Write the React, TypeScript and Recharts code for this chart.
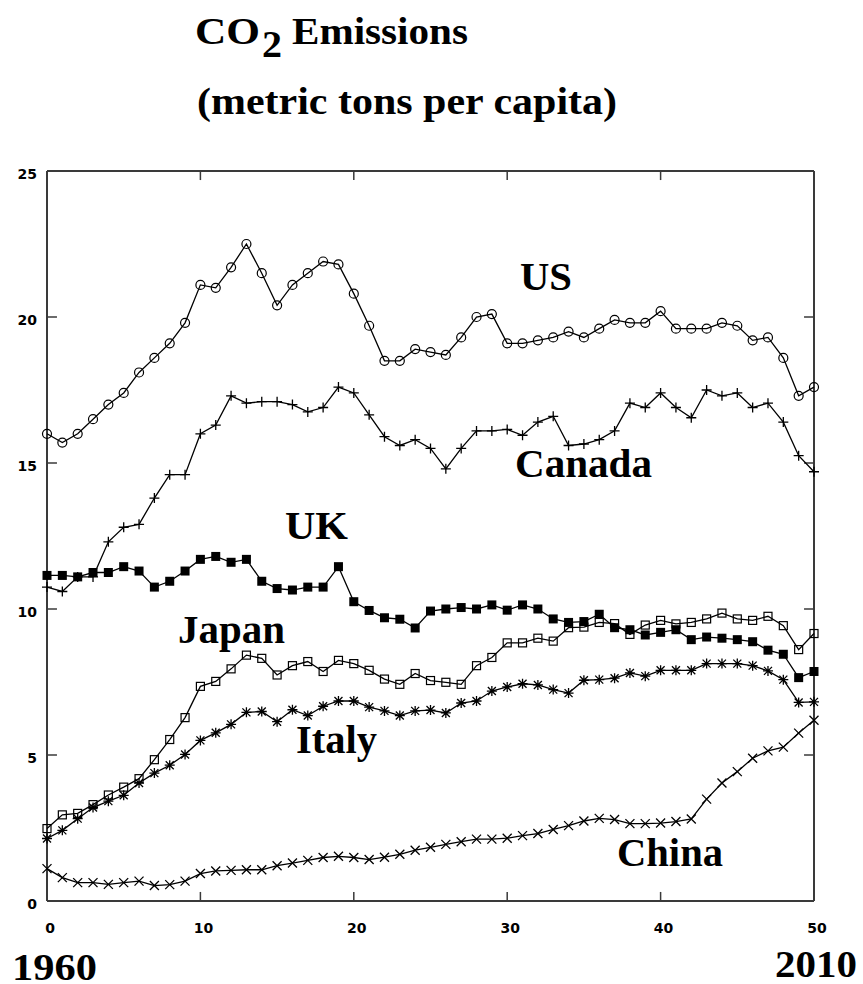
import React from "react";
import { LineChart, Line, XAxis, YAxis, ReferenceLine } from "recharts";

// years since 1960
const YEARS = Array.from({ length: 51 }, (_, i) => i);
const X_TICKS = [0, 10, 20, 30, 40, 50];
const Y_TICKS = [0, 5, 10, 15, 20, 25];

const US = [
  16.0, 15.7, 16.0, 16.5, 17.0, 17.4, 18.1, 18.6, 19.1, 19.8,
  21.1, 21.0, 21.7, 22.5, 21.5, 20.4, 21.1, 21.5, 21.9, 21.8,
  20.8, 19.7, 18.5, 18.5, 18.9, 18.8, 18.7, 19.3, 20.0, 20.1,
  19.1, 19.1, 19.2, 19.3, 19.5, 19.3, 19.6, 19.9, 19.8, 19.8,
  20.2, 19.6, 19.6, 19.6, 19.8, 19.7, 19.2, 19.3, 18.6, 17.3,
  17.6,
];
const CANADA = [
  10.75, 10.6, 11.1, 11.1, 12.3, 12.8, 12.9, 13.8, 14.6, 14.6,
  16.0, 16.3, 17.3, 17.05, 17.1, 17.1, 17.0, 16.75, 16.9, 17.6,
  17.4, 16.65, 15.9, 15.6, 15.8, 15.5, 14.8, 15.5, 16.1, 16.1,
  16.15, 15.95, 16.4, 16.6, 15.6, 15.65, 15.8, 16.1, 17.05, 16.9,
  17.4, 16.9, 16.55, 17.5, 17.3, 17.4, 16.9, 17.05, 16.4, 15.25,
  14.7,
];
const UK = [
  11.15, 11.15, 11.1, 11.25, 11.25, 11.45, 11.3, 10.75, 10.95, 11.3,
  11.7, 11.8, 11.6, 11.7, 10.95, 10.7, 10.65, 10.75, 10.75, 11.45,
  10.25, 9.95, 9.7, 9.65, 9.35, 9.93, 10.0, 10.05, 10.0, 10.14,
  9.96, 10.14, 10.0, 9.66, 9.54, 9.57, 9.82, 9.36, 9.29, 9.11,
  9.2, 9.29, 8.95, 9.04, 9.0, 8.95, 8.88, 8.59, 8.45, 7.65,
  7.86,
];
const JAPAN = [
  2.48, 2.95, 3.0, 3.3, 3.63, 3.9, 4.19, 4.84, 5.53, 6.28,
  7.35, 7.52, 7.95, 8.42, 8.31, 7.74, 8.06, 8.2, 7.86, 8.24,
  8.13, 7.9, 7.6, 7.42, 7.79, 7.55, 7.49, 7.42, 8.06, 8.34,
  8.84, 8.84, 9.0, 8.9, 9.36, 9.38, 9.54, 9.5, 9.13, 9.45,
  9.61, 9.49, 9.54, 9.66, 9.86, 9.66, 9.61, 9.75, 9.43, 8.61,
  9.16,
];
const ITALY = [
  2.14, 2.42, 2.82, 3.2, 3.42, 3.62, 4.04, 4.38, 4.65, 5.02,
  5.5, 5.76, 6.05, 6.46, 6.49, 6.14, 6.55, 6.35, 6.67, 6.85,
  6.85, 6.64, 6.51, 6.35, 6.51, 6.54, 6.44, 6.78, 6.85, 7.19,
  7.33, 7.44, 7.4, 7.24, 7.12, 7.56, 7.58, 7.63, 7.81, 7.7,
  7.9, 7.9, 7.9, 8.13, 8.13, 8.13, 8.06, 7.88, 7.58, 6.8,
  6.82,
];
const CHINA = [
  1.11, 0.8, 0.63, 0.63, 0.57, 0.63, 0.68, 0.53, 0.56, 0.68,
  0.94, 1.03, 1.05, 1.07, 1.07, 1.21, 1.3, 1.39, 1.49, 1.53,
  1.49, 1.42, 1.5, 1.6, 1.74, 1.84, 1.94, 2.03, 2.12, 2.12,
  2.15, 2.24, 2.31, 2.45, 2.58, 2.74, 2.83, 2.79, 2.65, 2.65,
  2.67, 2.72, 2.81, 3.49, 4.04, 4.43, 4.89, 5.14, 5.27, 5.75,
  6.19,
];

const data = YEARS.map((year, i) => ({
  year,
  us: US[i],
  canada: CANADA[i],
  uk: UK[i],
  japan: JAPAN[i],
  italy: ITALY[i],
  china: CHINA[i],
}));

const INK = "#000";
const FRAME = "#3a3a3a";
const TICK_FONT = "'DejaVu Sans', sans-serif";
const SERIF = "'Liberation Serif', 'Times New Roman', serif";

// tick mark lengths in data units (about 9-10 px)
const X_TICK_LEN = 0.31;
const Y_TICK_LEN = 0.65;

// marker shapes
const CircleDot = ({ cx, cy }: any) => (
  <circle cx={cx} cy={cy} r={4.5} fill="none" stroke={INK} strokeWidth={1.2} />
);
const PlusDot = ({ cx, cy }: any) => (
  <path d={`M${cx - 5},${cy}H${cx + 5}M${cx},${cy - 5}V${cy + 5}`} stroke={INK} strokeWidth={1.3} />
);
const FilledSquare = ({ cx, cy }: any) => (
  <rect x={cx - 4.5} y={cy - 4.5} width={9} height={9} fill={INK} />
);
const OpenSquare = ({ cx, cy }: any) => (
  <rect x={cx - 4} y={cy - 4} width={8} height={8} fill="none" stroke={INK} strokeWidth={1.2} />
);
const StarDot = ({ cx, cy }: any) => (
  <path
    d={`M${cx - 5},${cy}H${cx + 5}M${cx},${cy - 5}V${cy + 5}M${cx - 4},${cy - 4}L${cx + 4},${cy + 4}M${cx - 4},${cy + 4}L${cx + 4},${cy - 4}`}
    stroke={INK}
    strokeWidth={1.3}
  />
);
const CrossDot = ({ cx, cy }: any) => (
  <path
    d={`M${cx - 4.5},${cy - 4.5}L${cx + 4.5},${cy + 4.5}M${cx - 4.5},${cy + 4.5}L${cx + 4.5},${cy - 4.5}`}
    stroke={INK}
    strokeWidth={1.3}
  />
);

const SERIES = [
  { key: "us", Dot: CircleDot },
  { key: "canada", Dot: PlusDot },
  { key: "uk", Dot: FilledSquare },
  { key: "japan", Dot: OpenSquare },
  { key: "italy", Dot: StarDot },
  { key: "china", Dot: CrossDot },
];

const BottomLabel = ({ x, y, payload }: any) => (
  <text x={x + 3} y={y + 32} textAnchor="middle" fontFamily={TICK_FONT} fontWeight="bold" fontSize={14} fill={INK}>
    {payload.value}
  </text>
);
const LeftLabel = ({ x, y, payload }: any) => (
  <text x={x - 10} y={y + 8} textAnchor="end" fontFamily={TICK_FONT} fontWeight="bold" fontSize={14} fill={INK}>
    {payload.value}
  </text>
);

const LABELS = [
  { text: "US", x: 520, y: 290, len: 52 },
  { text: "Canada", x: 515, y: 477, len: 137 },
  { text: "UK", x: 285, y: 539, len: 63 },
  { text: "Japan", x: 178, y: 643, len: 107 },
  { text: "Italy", x: 296, y: 753, len: 81 },
  { text: "China", x: 617, y: 866, len: 106 },
];

export default function App() {
  return (
    <div style={{ position: "absolute", left: 0, top: 0, width: 863, height: 984, background: "#fff" }}>
      <LineChart
        width={863}
        height={984}
        data={data}
        margin={{ top: 171, right: 49, bottom: 53, left: 7 }}
      >
        <XAxis
          dataKey="year"
          type="number"
          domain={[0, 50]}
          ticks={X_TICKS}
          height={30}
          tickSize={0}
          tickMargin={0}
          tickLine={false}
          axisLine={false}
          tick={<BottomLabel />}
        />
        <YAxis
          type="number"
          domain={[0, 25]}
          ticks={Y_TICKS}
          width={40}
          tickSize={0}
          tickMargin={0}
          tickLine={false}
          axisLine={false}
          tick={<LeftLabel />}
        />
        {/* plot frame */}
        <ReferenceLine x={0} stroke={FRAME} strokeWidth={2} />
        <ReferenceLine x={50} stroke={FRAME} strokeWidth={2} />
        <ReferenceLine y={0} stroke={FRAME} strokeWidth={2} />
        <ReferenceLine y={25} stroke={FRAME} strokeWidth={2} />
        {/* inward ticks on all four sides */}
        {X_TICKS.slice(1, -1).map((t) => (
          <ReferenceLine key={`xb${t}`} segment={[{ x: t, y: 0 }, { x: t, y: X_TICK_LEN }]} stroke={FRAME} strokeWidth={1.5} />
        ))}
        {X_TICKS.slice(1, -1).map((t) => (
          <ReferenceLine key={`xt${t}`} segment={[{ x: t, y: 25 }, { x: t, y: 25 - X_TICK_LEN }]} stroke={FRAME} strokeWidth={1.5} />
        ))}
        {Y_TICKS.slice(1, -1).map((t) => (
          <ReferenceLine key={`yl${t}`} segment={[{ x: 0, y: t }, { x: Y_TICK_LEN, y: t }]} stroke={FRAME} strokeWidth={1.5} />
        ))}
        {Y_TICKS.slice(1, -1).map((t) => (
          <ReferenceLine key={`yr${t}`} segment={[{ x: 50, y: t }, { x: 50 - Y_TICK_LEN, y: t }]} stroke={FRAME} strokeWidth={1.5} />
        ))}
        {SERIES.map(({ key, Dot }) => (
          <Line
            key={key}
            dataKey={key}
            type="linear"
            stroke={INK}
            strokeWidth={1.3}
            isAnimationActive={false}
            dot={(p: any) => <Dot key={`${key}-${p.index}`} cx={p.cx} cy={p.cy} />}
            activeDot={false}
          />
        ))}
      </LineChart>
      <svg
        width={863}
        height={984}
        style={{ position: "absolute", left: 0, top: 0, pointerEvents: "none" }}
      >
        <g fontFamily={SERIF} fontWeight="bold" fill={INK}>
          <text x={195} y={44} fontSize={37} textLength={65} lengthAdjust="spacingAndGlyphs">CO</text>
          <text x={262} y={57} fontSize={37} textLength={20} lengthAdjust="spacingAndGlyphs">2</text>
          <text x={292} y={44} fontSize={37} textLength={176} lengthAdjust="spacingAndGlyphs">Emissions</text>
          <text x={197} y={114} fontSize={37} textLength={420} lengthAdjust="spacingAndGlyphs">
            (metric tons per capita)
          </text>
          {LABELS.map((l) => (
            <text key={l.text} x={l.x} y={l.y} fontSize={40} textLength={l.len} lengthAdjust="spacingAndGlyphs">
              {l.text}
            </text>
          ))}
          <text x={12} y={980} fontSize={38} textLength={85} lengthAdjust="spacingAndGlyphs">1960</text>
          <text x={775} y={977} fontSize={38} textLength={82} lengthAdjust="spacingAndGlyphs">2010</text>
        </g>
      </svg>
    </div>
  );
}
